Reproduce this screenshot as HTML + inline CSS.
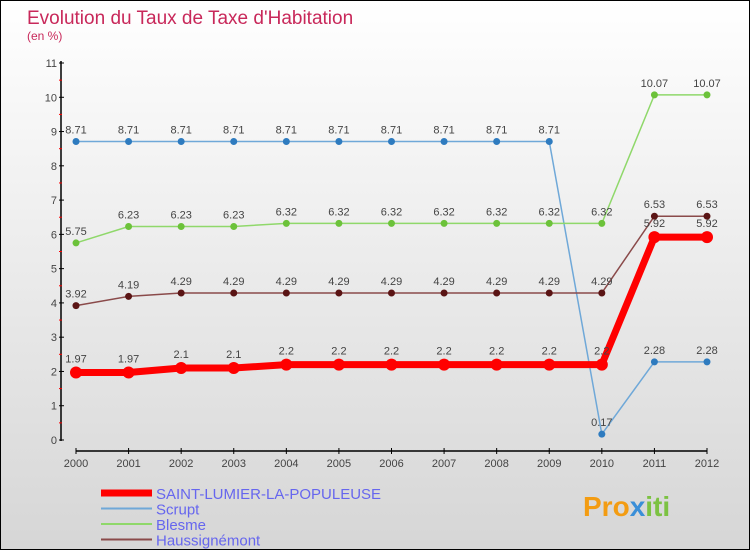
<!DOCTYPE html>
<html><head><meta charset="utf-8"><style>
body{margin:0}
#c{width:748px;height:548px;border:1px solid #000;background:linear-gradient(#fff,#d6d6d6);position:relative;font-family:"Liberation Sans",sans-serif;overflow:hidden}
svg text{font-family:"Liberation Sans",sans-serif}
</style></head><body>
<div id="c">
<svg id="s" width="748" height="548">
<text x="26" y="23" font-size="19" fill="#c8285a">Evolution du Taux de Taxe d'Habitation</text>
<text x="26" y="39" font-size="12" fill="#c8285a">(en %)</text>
<text x="582" y="515" font-size="28" font-weight="bold" fill="#f39c12">Pro<tspan fill="#3a8fd8">x</tspan><tspan fill="#7cc242">iti</tspan></text>
</svg>
</div>
<script>
const years=[2000,2001,2002,2003,2004,2005,2006,2007,2008,2009,2010,2011,2012];
const yTicks=[0,1,2,3,4,5,6,7,8,9,10,11];
const saint=[1.97,1.97,2.1,2.1,2.2,2.2,2.2,2.2,2.2,2.2,2.2,5.92,5.92];
const scrupt=[8.71,8.71,8.71,8.71,8.71,8.71,8.71,8.71,8.71,8.71,0.17,2.28,2.28];
const blesme=[5.75,6.23,6.23,6.23,6.32,6.32,6.32,6.32,6.32,6.32,6.32,10.07,10.07];
const hauss=[3.92,4.19,4.29,4.29,4.29,4.29,4.29,4.29,4.29,4.29,4.29,6.53,6.53];
const names=["SAINT-LUMIER-LA-POPULEUSE","Scrupt","Blesme","Haussignémont"];
const NS="http://www.w3.org/2000/svg";
const s=document.getElementById('s');
const X=i=>75+i*(631/12);
const Y=v=>439-v*(377/11);
function el(t,a,p){const e=document.createElementNS(NS,t);for(const k in a)e.setAttribute(k,a[k]);(p||s).appendChild(e);return e;}
let ax=el('line',{x1:60,y1:60,x2:60,y2:440,stroke:'#000','stroke-width':1.5});


yTicks.forEach(v=>{
 el('line',{x1:58,x2:63,y1:Y(v),y2:Y(v),stroke:'#000'});
 if(v<11){el('line',{x1:58,x2:61,y1:Y(v+0.5),y2:Y(v+0.5),stroke:'#f00'});}
 let t=el('text',{x:56,y:Y(v)+4,'text-anchor':'end','font-size':11,fill:'#444'});t.textContent=v;
 
 
});
let xa=el('line',{x1:75,y1:450,x2:706,y2:450,stroke:'#000','stroke-width':1.5});


years.forEach((y,i)=>{
 el('line',{x1:X(i),x2:X(i),y1:447,y2:453,stroke:'#000'});
 let t=el('text',{x:X(i),y:466,'text-anchor':'middle','font-size':11,fill:'#444'});t.textContent=y;
 
 
});
function series(d,col,w,r,dot,name,lblOff){
 const g=el('g',{});
 
 
 el('polyline',{points:d.map((v,i)=>X(i)+','+Y(v)).join(' '),fill:'none',stroke:col,'stroke-width':w,'stroke-linejoin':'round'},g);
 d.forEach((v,i)=>{
  const c=el('circle',{cx:X(i),cy:Y(v),r:r,fill:dot},g);
  
  
  const t=el('text',{x:X(i),y:Y(v)-lblOff,'text-anchor':'middle','font-size':11,fill:'#444'},g);t.textContent=v;
 });
}
series(scrupt,'#6fa8d8',1.5,3.5,'#2e7bbf','series-scrupt',8);
series(blesme,'#8fd86a',1.5,3.5,'#6cc23a','series-blesme',8);
series(hauss,'#8a4a4a',1.5,3.5,'#5a1414','series-haussignemont',8);
series(saint,'#f00',7,6,'#f00','series-saint-lumier',10);
const lc=['#f00','#6fa8d8','#8fd86a','#8a4a4a'],lw=[7,2,2,2];
names.forEach((n,i)=>{
 const y=492+i*15.5;
 el('line',{x1:100,x2:151,y1:y,y2:y,stroke:lc[i],'stroke-width':lw[i]});
 const t=el('text',{x:155,y:y+6,'font-size':15,fill:'#6666ee'});t.textContent=n;
 
 
});
</script>
</body></html>
